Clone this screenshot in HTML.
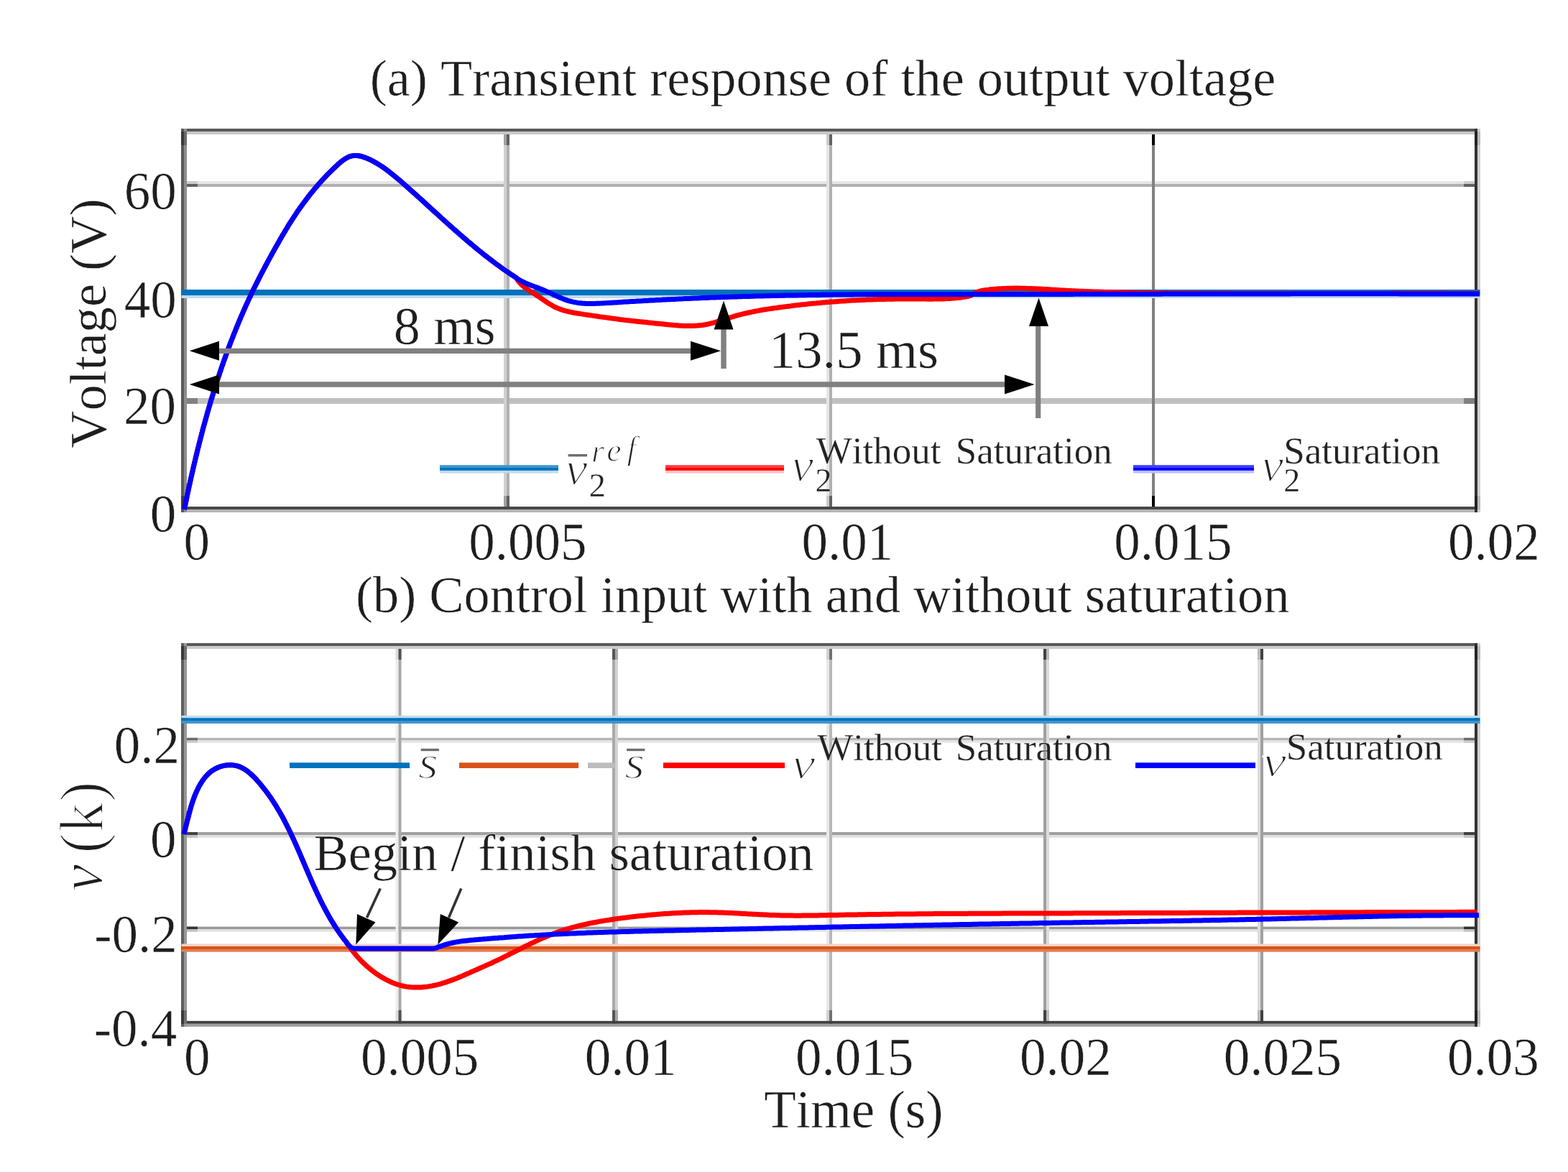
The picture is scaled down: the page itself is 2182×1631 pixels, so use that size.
<!DOCTYPE html>
<html><head><meta charset="utf-8"><title>Transient response and control input</title>
<style>html,body{margin:0;padding:0;background:#fff;}svg{display:block;}</style></head>
<body><svg width="2182" height="1631" viewBox="0 0 2182 1631"><rect width="2182" height="1631" fill="#fff"/><rect x="256" y="252" width="1800.00" height="4.00" fill="#e6e6e6" stroke="none"/><rect x="256" y="256" width="1800.00" height="4.00" fill="#b0b0b0" stroke="none"/><rect x="256" y="252" width="19.00" height="4.00" fill="#cdcdcd" stroke="none"/><rect x="2037" y="252" width="19.00" height="4.00" fill="#cdcdcd" stroke="none"/><rect x="256" y="256" width="19.00" height="4.00" fill="#616161" stroke="none"/><rect x="2037" y="256" width="19.00" height="4.00" fill="#616161" stroke="none"/><rect x="256" y="404" width="1800.00" height="4.00" fill="#e6e6e6" stroke="none"/><rect x="256" y="408" width="1800.00" height="4.00" fill="#b0b0b0" stroke="none"/><rect x="256" y="404" width="19.00" height="4.00" fill="#cdcdcd" stroke="none"/><rect x="2037" y="404" width="19.00" height="4.00" fill="#cdcdcd" stroke="none"/><rect x="256" y="408" width="19.00" height="4.00" fill="#616161" stroke="none"/><rect x="2037" y="408" width="19.00" height="4.00" fill="#616161" stroke="none"/><rect x="256" y="554" width="1800.00" height="8.00" fill="#c0c0c0" stroke="none"/><rect x="256" y="554" width="19.00" height="8.00" fill="#818181" stroke="none"/><rect x="2037" y="554" width="19.00" height="8.00" fill="#818181" stroke="none"/><rect x="701" y="183" width="4.00" height="526.00" fill="#d0d0d0" stroke="none"/><rect x="705" y="183" width="4.00" height="526.00" fill="#b0b0b0" stroke="none"/><rect x="701" y="183" width="4.00" height="19.00" fill="#a1a1a1" stroke="none"/><rect x="701" y="690" width="4.00" height="19.00" fill="#a1a1a1" stroke="none"/><rect x="705" y="183" width="4.00" height="19.00" fill="#616161" stroke="none"/><rect x="705" y="690" width="4.00" height="19.00" fill="#616161" stroke="none"/><rect x="1150" y="183" width="4.00" height="526.00" fill="#e5e5e5" stroke="none"/><rect x="1154" y="183" width="4.00" height="526.00" fill="#b0b0b0" stroke="none"/><rect x="1150" y="183" width="4.00" height="19.00" fill="#cbcbcb" stroke="none"/><rect x="1150" y="690" width="4.00" height="19.00" fill="#cbcbcb" stroke="none"/><rect x="1154" y="183" width="4.00" height="19.00" fill="#616161" stroke="none"/><rect x="1154" y="690" width="4.00" height="19.00" fill="#616161" stroke="none"/><rect x="1603" y="183" width="4.00" height="526.00" fill="#808080" stroke="none"/><rect x="1603" y="183" width="4.00" height="19.00" fill="#010101" stroke="none"/><rect x="1603" y="690" width="4.00" height="19.00" fill="#010101" stroke="none"/><rect x="252" y="179" width="1808.00" height="4.00" fill="#5a5a5a" stroke="none"/><rect x="252" y="183" width="1808.00" height="4.00" fill="#c8c8c8" stroke="none"/><rect x="252" y="705" width="1808.00" height="4.00" fill="#484848" stroke="none"/><rect x="252" y="709" width="1808.00" height="4.00" fill="#b5b5b5" stroke="none"/><rect x="252" y="179" width="4.00" height="534.00" fill="#5a5a5a" stroke="none"/><rect x="256" y="179" width="4.00" height="534.00" fill="#8e8e8e" stroke="none"/><rect x="2052" y="179" width="4.00" height="534.00" fill="#333333" stroke="none"/><rect x="2056" y="179" width="4.00" height="534.00" fill="#d0d0d0" stroke="none"/><rect x="252" y="183" width="4.00" height="19.00" fill="#3a3a3a" stroke="none"/><rect x="256" y="183" width="4.00" height="19.00" fill="#6a6a6a" stroke="none"/><rect x="2052" y="183" width="4.00" height="19.00" fill="#222222" stroke="none"/><rect x="2056" y="183" width="4.00" height="19.00" fill="#bbbbbb" stroke="none"/><rect x="252" y="690" width="4.00" height="19.00" fill="#3a3a3a" stroke="none"/><rect x="256" y="690" width="4.00" height="19.00" fill="#6a6a6a" stroke="none"/><rect x="2052" y="690" width="4.00" height="19.00" fill="#222222" stroke="none"/><rect x="2056" y="690" width="4.00" height="19.00" fill="#bbbbbb" stroke="none"/><rect x="252.5" y="403" width="1807.00" height="8.00" fill="#0072bd" stroke="none"/><rect x="252.5" y="411" width="1807.00" height="4.00" fill="#bfdbee" stroke="none"/><path d="M256.5,709.0 L257.1,706.0 L257.7,703.1 L258.3,700.2 L258.9,697.2 L259.5,694.3 L260.1,691.4 L260.7,688.5 L261.3,685.6 L262.0,682.6 L262.6,679.7 L263.2,676.8 L263.9,673.9 L264.5,671.0 L265.1,668.0 L265.8,665.1 L266.5,662.2 L267.1,659.3 L267.8,656.4 L268.5,653.5 L269.1,650.5 L269.8,647.6 L270.5,644.7 L271.2,641.8 L271.9,638.9 L272.6,636.0 L273.3,633.1 L274.0,630.2 L274.7,627.2 L275.4,624.3 L276.2,621.4 L276.9,618.5 L277.6,615.6 L278.4,612.7 L279.1,609.8 L279.9,606.9 L280.6,604.0 L281.4,601.1 L282.1,598.2 L282.9,595.3 L283.7,592.4 L284.5,589.5 L285.3,586.6 L286.1,583.7 L286.9,580.9 L287.7,578.0 L288.5,575.1 L289.3,572.2 L290.2,569.3 L291.0,566.4 L291.8,563.6 L292.7,560.7 L293.5,557.8 L294.4,554.9 L295.3,552.1 L296.2,549.2 L297.0,546.3 L297.9,543.5 L298.8,540.6 L299.7,537.8 L300.6,534.9 L301.5,532.0 L302.5,529.2 L303.4,526.3 L304.3,523.5 L305.3,520.7 L306.2,517.8 L307.2,515.0 L308.1,512.1 L309.1,509.3 L310.1,506.5 L311.1,503.6 L312.1,500.8 L313.1,498.0 L314.1,495.2 L315.1,492.4 L316.1,489.6 L317.2,486.7 L318.2,483.9 L319.3,481.1 L320.3,478.3 L321.4,475.5 L322.5,472.7 L323.6,470.0 L324.6,467.2 L325.7,464.4 L326.9,461.6 L328.0,458.8 L329.1,456.1 L330.2,453.3 L331.4,450.5 L332.5,447.8 L333.7,445.0 L334.8,442.2 L336.0,439.5 L337.2,436.8 L338.4,434.0 L339.6,431.3 L340.8,428.5 L342.0,425.8 L343.3,423.1 L344.5,420.4 L345.8,417.6 L347.0,414.9 L348.3,412.2 L349.6,409.5 L350.8,406.8 L352.1,404.1 L353.4,401.4 L354.8,398.7 L356.1,396.1 L357.4,393.4 L358.8,390.7 L360.1,388.0 L361.5,385.4 L362.8,382.7 L364.2,380.1 L365.6,377.4 L367.0,374.8 L368.4,372.1 L369.8,369.5 L371.2,366.8 L372.6,364.2 L374.0,361.6 L375.5,358.9 L376.9,356.3 L378.4,353.7 L379.8,351.0 L381.3,348.4 L382.7,345.8 L384.2,343.2 L385.7,340.6 L387.2,338.0 L388.6,335.4 L390.1,332.8 L391.6,330.2 L393.1,327.6 L394.7,325.0 L396.2,322.4 L397.7,319.8 L399.3,317.3 L400.8,314.7 L402.4,312.2 L404.0,309.6 L405.6,307.1 L407.2,304.6 L408.9,302.1 L410.5,299.6 L412.2,297.1 L413.8,294.6 L415.5,292.2 L417.2,289.7 L419.0,287.3 L420.7,284.9 L422.5,282.5 L424.3,280.1 L426.1,277.7 L427.9,275.3 L429.7,272.9 L431.5,270.6 L433.4,268.3 L435.3,266.0 L437.2,263.6 L439.1,261.4 L441.1,259.1 L443.0,256.8 L445.0,254.6 L447.0,252.3 L449.0,250.1 L451.1,247.9 L453.2,245.7 L455.2,243.5 L457.3,241.4 L459.5,239.2 L461.6,237.1 L463.8,235.0 L466.0,232.9 L468.2,230.8 L470.5,228.7 L472.7,226.7 L475.0,224.8 L477.4,223.0 L479.8,221.3 L482.2,219.9 L484.8,218.6 L487.4,217.6 L490.0,216.9 L492.8,216.5 L495.6,216.4 L498.6,216.7 L501.5,217.2 L504.5,218.1 L507.5,219.1 L510.5,220.2 L513.5,221.5 L516.4,222.9 L519.2,224.4 L521.9,225.9 L524.6,227.4 L527.2,229.0 L529.7,230.6 L532.2,232.2 L534.6,233.9 L537.0,235.6 L539.3,237.4 L541.6,239.1 L543.9,240.9 L546.2,242.7 L548.5,244.6 L550.7,246.5 L553.0,248.4 L555.3,250.3 L557.5,252.2 L559.8,254.2 L562.0,256.1 L564.3,258.1 L566.5,260.1 L568.8,262.1 L571.0,264.1 L573.3,266.1 L575.5,268.1 L577.8,270.1 L580.0,272.1 L582.2,274.2 L584.5,276.2 L586.7,278.2 L588.9,280.2 L591.1,282.2 L593.4,284.3 L595.6,286.3 L597.8,288.3 L600.0,290.3 L602.2,292.4 L604.4,294.4 L606.7,296.4 L608.9,298.4 L611.1,300.4 L613.3,302.5 L615.5,304.5 L617.8,306.5 L620.0,308.5 L622.2,310.5 L624.4,312.5 L626.7,314.5 L628.9,316.5 L631.1,318.5 L633.4,320.4 L635.6,322.4 L637.9,324.4 L640.1,326.4 L642.4,328.3 L644.6,330.3 L646.9,332.2 L649.1,334.2 L651.4,336.1 L653.7,338.0 L656.0,340.0 L658.3,341.9 L660.6,343.8 L662.9,345.7 L665.2,347.6 L667.5,349.5 L669.8,351.3 L672.2,353.2 L674.5,355.1 L676.9,356.9 L679.2,358.7 L681.6,360.6 L684.0,362.4 L686.4,364.2 L688.7,366.0 L691.2,367.8 L693.6,369.5 L696.0,371.3 L698.4,373.0 L700.9,374.8 L703.3,376.5 L705.8,378.2 L708.3,379.9 L710.8,381.6 L713.3,383.2 L715.8,384.9 L718.3,386.5 L719.9,389.2 L721.7,391.7 L723.7,394.0 L725.8,396.2 L727.9,398.1 L730.2,400.0 L732.6,401.7 L735.0,403.4 L737.5,405.0 L740.0,406.6 L742.5,408.2 L745.1,409.8 L747.6,411.5 L750.1,413.2 L752.6,414.9 L755.1,416.6 L757.6,418.3 L760.1,420.0 L762.6,421.7 L765.2,423.3 L767.8,424.8 L770.4,426.3 L773.0,427.6 L775.7,428.8 L778.5,429.9 L781.3,430.9 L784.1,431.8 L786.9,432.6 L789.8,433.3 L792.7,434.0 L795.6,434.6 L798.6,435.2 L801.5,435.7 L804.5,436.2 L807.5,436.6 L810.4,437.1 L813.4,437.6 L816.4,438.0 L819.4,438.5 L822.3,438.9 L825.3,439.4 L828.3,439.8 L831.3,440.2 L834.2,440.7 L837.2,441.1 L840.2,441.5 L843.1,441.9 L846.1,442.3 L849.1,442.7 L852.0,443.1 L855.0,443.5 L858.0,443.9 L860.9,444.3 L863.9,444.7 L866.9,445.0 L869.8,445.4 L872.8,445.7 L875.7,446.1 L878.7,446.4 L881.7,446.7 L884.6,447.1 L887.6,447.4 L890.6,447.7 L893.5,448.0 L896.5,448.3 L899.5,448.6 L902.5,448.9 L905.5,449.2 L908.4,449.6 L911.4,449.9 L914.4,450.2 L917.4,450.5 L920.4,450.8 L923.4,451.1 L926.4,451.4 L929.4,451.7 L932.4,452.0 L935.4,452.3 L938.4,452.6 L941.4,452.8 L944.4,453.1 L947.4,453.2 L950.4,453.4 L953.4,453.5 L956.4,453.6 L959.4,453.6 L962.4,453.6 L965.3,453.5 L968.3,453.3 L971.3,453.1 L974.2,452.8 L977.2,452.5 L980.1,452.0 L983.0,451.5 L985.9,450.9 L988.8,450.2 L991.7,449.5 L994.6,448.7 L997.4,447.9 L1000.3,447.0 L1003.2,446.1 L1006.0,445.2 L1008.9,444.2 L1011.7,443.3 L1014.6,442.4 L1017.5,441.5 L1020.3,440.6 L1023.2,439.7 L1026.1,438.9 L1029.0,438.1 L1031.9,437.4 L1034.8,436.7 L1037.7,436.0 L1040.7,435.3 L1043.6,434.7 L1046.5,434.1 L1049.4,433.5 L1052.4,432.9 L1055.3,432.4 L1058.3,431.8 L1061.2,431.3 L1064.2,430.8 L1067.1,430.4 L1070.1,429.9 L1073.0,429.5 L1076.0,429.0 L1079.0,428.6 L1081.9,428.2 L1084.9,427.8 L1087.9,427.4 L1090.8,427.0 L1093.8,426.6 L1096.8,426.2 L1099.8,425.9 L1102.7,425.5 L1105.7,425.1 L1108.7,424.8 L1111.7,424.4 L1114.7,424.1 L1117.6,423.8 L1120.6,423.5 L1123.6,423.1 L1126.6,422.8 L1129.6,422.5 L1132.5,422.2 L1135.5,422.0 L1138.5,421.7 L1141.5,421.4 L1144.5,421.1 L1147.5,420.9 L1150.4,420.6 L1153.4,420.4 L1156.4,420.1 L1159.4,419.9 L1162.4,419.7 L1165.4,419.5 L1168.3,419.3 L1171.3,419.1 L1174.3,418.9 L1177.3,418.7 L1180.3,418.5 L1183.3,418.3 L1186.2,418.1 L1189.2,418.0 L1192.2,417.8 L1195.2,417.7 L1198.2,417.5 L1201.2,417.4 L1204.2,417.3 L1207.1,417.1 L1210.1,417.0 L1213.1,416.9 L1216.1,416.8 L1219.1,416.7 L1222.1,416.6 L1225.1,416.5 L1228.1,416.4 L1231.1,416.4 L1234.1,416.3 L1237.1,416.3 L1240.1,416.2 L1243.1,416.2 L1246.1,416.1 L1249.1,416.1 L1252.1,416.1 L1255.1,416.0 L1258.1,416.0 L1261.1,416.0 L1264.1,416.0 L1267.1,416.0 L1270.1,416.0 L1273.1,416.0 L1276.1,416.1 L1279.1,416.1 L1282.1,416.1 L1285.1,416.1 L1288.2,416.1 L1291.2,416.2 L1294.2,416.2 L1297.2,416.2 L1300.2,416.1 L1303.2,416.1 L1306.2,416.0 L1309.2,416.0 L1312.2,415.9 L1315.2,415.8 L1318.1,415.6 L1321.1,415.5 L1324.1,415.3 L1327.1,415.1 L1330.0,414.8 L1333.0,414.5 L1335.9,414.2 L1338.9,413.8 L1341.8,413.4 L1344.7,412.9 L1347.6,412.3 L1350.4,411.5 L1353.1,410.2 L1355.7,408.8 L1358.3,407.2 L1361.0,406.0 L1363.8,405.1 L1366.6,404.4 L1369.6,403.9 L1372.5,403.5 L1375.5,403.2 L1378.4,402.8 L1381.4,402.5 L1384.4,402.3 L1387.3,402.0 L1390.3,401.8 L1393.3,401.7 L1396.2,401.5 L1399.2,401.4 L1402.2,401.3 L1405.2,401.2 L1408.1,401.2 L1411.1,401.1 L1414.1,401.1 L1417.1,401.1 L1420.1,401.2 L1423.1,401.2 L1426.1,401.3 L1429.1,401.4 L1432.1,401.5 L1435.0,401.6 L1438.0,401.7 L1441.0,401.8 L1444.0,402.0 L1447.0,402.1 L1450.0,402.3 L1453.0,402.5 L1456.0,402.6 L1459.0,402.8 L1462.0,403.0 L1465.0,403.2 L1468.0,403.3 L1471.0,403.5 L1474.0,403.7 L1477.0,403.9 L1480.0,404.0 L1483.0,404.2 L1486.0,404.4 L1489.0,404.5 L1492.0,404.7 L1495.0,404.8 L1498.0,404.9 L1501.0,405.1 L1504.0,405.2 L1507.0,405.3 L1510.0,405.5 L1513.0,405.6 L1516.0,405.7 L1519.0,405.8 L1522.0,405.9 L1525.0,406.0 L1528.0,406.1 L1531.0,406.2 L1534.0,406.3 L1537.0,406.4 L1540.0,406.5 L1543.0,406.5 L1546.0,406.6 L1549.0,406.7 L1551.9,406.8 L1554.9,406.8 L1557.9,406.9 L1560.9,407.0 L1563.9,407.0 L1566.9,407.1 L1569.9,407.1 L1572.9,407.2 L1575.9,407.2 L1578.9,407.3 L1581.9,407.3 L1584.9,407.4 L1587.8,407.4 L1590.8,407.4 L1593.8,407.5 L1596.8,407.5 L1599.8,407.6 L1602.8,407.6 L1605.8,407.6 L1608.8,407.7 L1611.8,407.7 L1614.8,407.7 L1617.8,407.8 L1620.8,407.8 L1623.7,407.8 L1626.7,407.8 L1629.7,407.9 L1632.7,407.9 L1635.7,407.9 L1638.7,407.9 L1641.7,408.0 L1644.7,408.0 L1647.7,408.0 L1650.7,408.0 L1653.7,408.1 L1656.7,408.1 L1659.7,408.1 L1662.7,408.1 L1665.6,408.1 L1668.6,408.1 L1671.6,408.2 L1674.6,408.2 L1677.6,408.2 L1680.6,408.2 L1683.6,408.2 L1686.6,408.2 L1689.6,408.3 L1692.6,408.3 L1695.6,408.3 L1698.6,408.3 L1701.6,408.3 L1704.6,408.3 L1707.6,408.3 L1710.6,408.3 L1713.6,408.4 L1716.6,408.4 L1719.5,408.4 L1722.5,408.4 L1725.5,408.4 L1728.5,408.4 L1731.5,408.4 L1734.5,408.4 L1737.5,408.4 L1740.5,408.4 L1743.5,408.4 L1746.5,408.4 L1749.5,408.4 L1752.5,408.4 L1755.5,408.5 L1758.5,408.5 L1761.5,408.5 L1764.5,408.5 L1767.5,408.5 L1770.5,408.5 L1773.5,408.5 L1776.5,408.5 L1779.5,408.5 L1782.4,408.5 L1785.4,408.5 L1788.4,408.5 L1791.4,408.5 L1794.4,408.5 L1797.4,408.5 L1800.4,408.5 L1803.4,408.5 L1806.4,408.5 L1809.4,408.5 L1812.4,408.5 L1815.4,408.5 L1818.4,408.5 L1821.4,408.5 L1824.4,408.5 L1827.4,408.5 L1830.4,408.5 L1833.4,408.5 L1836.4,408.5 L1839.4,408.5 L1842.4,408.5 L1845.4,408.5 L1848.4,408.4 L1851.4,408.4 L1854.4,408.4 L1857.3,408.4 L1860.3,408.4 L1863.3,408.4 L1866.3,408.4 L1869.3,408.4 L1872.3,408.4 L1875.3,408.4 L1878.3,408.4 L1881.3,408.4 L1884.3,408.4 L1887.3,408.4 L1890.3,408.4 L1893.3,408.4 L1896.3,408.4 L1899.3,408.4 L1902.3,408.4 L1905.3,408.4 L1908.3,408.4 L1911.3,408.4 L1914.3,408.4 L1917.3,408.4 L1920.3,408.4 L1923.3,408.4 L1926.3,408.4 L1929.2,408.4 L1932.2,408.4 L1935.2,408.4 L1938.2,408.3 L1941.2,408.3 L1944.2,408.3 L1947.2,408.3 L1950.2,408.3 L1953.2,408.3 L1956.2,408.3 L1959.2,408.3 L1962.2,408.3 L1965.2,408.3 L1968.2,408.3 L1971.2,408.3 L1974.2,408.3 L1977.2,408.3 L1980.2,408.3 L1983.2,408.3 L1986.1,408.3 L1989.1,408.3 L1992.1,408.3 L1995.1,408.3 L1998.1,408.3 L2001.1,408.3 L2004.1,408.3 L2007.1,408.3 L2010.1,408.3 L2013.1,408.3 L2016.1,408.4 L2019.1,408.4 L2022.1,408.4 L2025.1,408.4 L2028.1,408.4 L2031.1,408.4 L2034.0,408.4 L2037.0,408.4 L2040.0,408.4 L2043.0,408.4 L2046.0,408.4 L2049.0,408.4 L2052.0,408.4 L2055.0,408.4 L2058.0,408.4" fill="none" stroke="#ff0000" stroke-width="7" stroke-linejoin="round"/><path d="M256.5,709.0 L257.1,706.0 L257.7,703.1 L258.3,700.2 L258.9,697.2 L259.5,694.3 L260.1,691.4 L260.7,688.5 L261.3,685.6 L262.0,682.6 L262.6,679.7 L263.2,676.8 L263.9,673.9 L264.5,671.0 L265.1,668.0 L265.8,665.1 L266.5,662.2 L267.1,659.3 L267.8,656.4 L268.5,653.5 L269.1,650.5 L269.8,647.6 L270.5,644.7 L271.2,641.8 L271.9,638.9 L272.6,636.0 L273.3,633.1 L274.0,630.2 L274.7,627.2 L275.4,624.3 L276.2,621.4 L276.9,618.5 L277.6,615.6 L278.4,612.7 L279.1,609.8 L279.9,606.9 L280.6,604.0 L281.4,601.1 L282.1,598.2 L282.9,595.3 L283.7,592.4 L284.5,589.5 L285.3,586.6 L286.1,583.7 L286.9,580.9 L287.7,578.0 L288.5,575.1 L289.3,572.2 L290.2,569.3 L291.0,566.4 L291.8,563.6 L292.7,560.7 L293.5,557.8 L294.4,554.9 L295.3,552.1 L296.2,549.2 L297.0,546.3 L297.9,543.5 L298.8,540.6 L299.7,537.8 L300.6,534.9 L301.5,532.0 L302.5,529.2 L303.4,526.3 L304.3,523.5 L305.3,520.7 L306.2,517.8 L307.2,515.0 L308.1,512.1 L309.1,509.3 L310.1,506.5 L311.1,503.6 L312.1,500.8 L313.1,498.0 L314.1,495.2 L315.1,492.4 L316.1,489.6 L317.2,486.7 L318.2,483.9 L319.3,481.1 L320.3,478.3 L321.4,475.5 L322.5,472.7 L323.6,470.0 L324.6,467.2 L325.7,464.4 L326.9,461.6 L328.0,458.8 L329.1,456.1 L330.2,453.3 L331.4,450.5 L332.5,447.8 L333.7,445.0 L334.8,442.2 L336.0,439.5 L337.2,436.8 L338.4,434.0 L339.6,431.3 L340.8,428.5 L342.0,425.8 L343.3,423.1 L344.5,420.4 L345.8,417.6 L347.0,414.9 L348.3,412.2 L349.6,409.5 L350.8,406.8 L352.1,404.1 L353.4,401.4 L354.8,398.7 L356.1,396.1 L357.4,393.4 L358.8,390.7 L360.1,388.0 L361.5,385.4 L362.8,382.7 L364.2,380.1 L365.6,377.4 L367.0,374.8 L368.4,372.1 L369.8,369.5 L371.2,366.8 L372.6,364.2 L374.0,361.6 L375.5,358.9 L376.9,356.3 L378.4,353.7 L379.8,351.0 L381.3,348.4 L382.7,345.8 L384.2,343.2 L385.7,340.6 L387.2,338.0 L388.6,335.4 L390.1,332.8 L391.6,330.2 L393.1,327.6 L394.7,325.0 L396.2,322.4 L397.7,319.8 L399.3,317.3 L400.8,314.7 L402.4,312.2 L404.0,309.6 L405.6,307.1 L407.2,304.6 L408.9,302.1 L410.5,299.6 L412.2,297.1 L413.8,294.6 L415.5,292.2 L417.2,289.7 L419.0,287.3 L420.7,284.9 L422.5,282.5 L424.3,280.1 L426.1,277.7 L427.9,275.3 L429.7,272.9 L431.5,270.6 L433.4,268.3 L435.3,266.0 L437.2,263.6 L439.1,261.4 L441.1,259.1 L443.0,256.8 L445.0,254.6 L447.0,252.3 L449.0,250.1 L451.1,247.9 L453.2,245.7 L455.2,243.5 L457.3,241.4 L459.5,239.2 L461.6,237.1 L463.8,235.0 L466.0,232.9 L468.2,230.8 L470.5,228.7 L472.7,226.7 L475.0,224.8 L477.4,223.0 L479.8,221.3 L482.2,219.9 L484.8,218.6 L487.4,217.6 L490.0,216.9 L492.8,216.5 L495.6,216.4 L498.6,216.7 L501.5,217.2 L504.5,218.1 L507.5,219.1 L510.5,220.2 L513.5,221.5 L516.4,222.9 L519.2,224.4 L521.9,225.9 L524.6,227.4 L527.2,229.0 L529.7,230.6 L532.2,232.2 L534.6,233.9 L537.0,235.6 L539.3,237.4 L541.6,239.1 L543.9,240.9 L546.2,242.7 L548.5,244.6 L550.7,246.5 L553.0,248.4 L555.3,250.3 L557.5,252.2 L559.8,254.2 L562.0,256.1 L564.3,258.1 L566.5,260.1 L568.8,262.1 L571.0,264.1 L573.3,266.1 L575.5,268.1 L577.8,270.1 L580.0,272.1 L582.2,274.2 L584.5,276.2 L586.7,278.2 L588.9,280.2 L591.1,282.2 L593.4,284.3 L595.6,286.3 L597.8,288.3 L600.0,290.3 L602.2,292.4 L604.4,294.4 L606.7,296.4 L608.9,298.4 L611.1,300.4 L613.3,302.5 L615.5,304.5 L617.8,306.5 L620.0,308.5 L622.2,310.5 L624.4,312.5 L626.7,314.5 L628.9,316.5 L631.1,318.5 L633.4,320.4 L635.6,322.4 L637.9,324.4 L640.1,326.4 L642.4,328.3 L644.6,330.3 L646.9,332.2 L649.1,334.2 L651.4,336.1 L653.7,338.0 L656.0,340.0 L658.3,341.9 L660.6,343.8 L662.9,345.7 L665.2,347.6 L667.5,349.5 L669.8,351.3 L672.2,353.2 L674.5,355.1 L676.9,356.9 L679.2,358.7 L681.6,360.6 L684.0,362.4 L686.4,364.2 L688.7,366.0 L691.2,367.8 L693.6,369.5 L696.0,371.3 L698.4,373.0 L700.9,374.8 L703.3,376.5 L705.8,378.2 L708.3,379.9 L710.8,381.6 L713.3,383.2 L715.8,384.9 L718.3,386.5 L720.8,388.4 L723.4,390.0 L726.0,391.4 L728.6,392.7 L731.3,394.0 L734.0,395.1 L736.8,396.2 L739.5,397.3 L742.3,398.3 L745.1,399.4 L747.9,400.4 L750.7,401.4 L753.5,402.5 L756.3,403.7 L759.1,404.9 L761.8,406.1 L764.6,407.4 L767.4,408.7 L770.1,410.0 L772.9,411.3 L775.7,412.5 L778.5,413.8 L781.3,415.0 L784.1,416.1 L786.9,417.1 L789.7,418.1 L792.5,419.0 L795.4,419.7 L798.3,420.4 L801.2,420.9 L804.1,421.4 L807.0,421.7 L809.9,422.0 L812.8,422.2 L815.8,422.4 L818.7,422.5 L821.7,422.5 L824.7,422.5 L827.6,422.4 L830.6,422.3 L833.6,422.2 L836.6,422.1 L839.6,421.9 L842.6,421.7 L845.6,421.6 L848.6,421.4 L851.6,421.2 L854.5,421.0 L857.5,420.9 L860.5,420.7 L863.5,420.5 L866.5,420.3 L869.5,420.1 L872.5,420.0 L875.5,419.8 L878.5,419.6 L881.5,419.4 L884.5,419.3 L887.5,419.1 L890.5,418.9 L893.5,418.8 L896.5,418.6 L899.4,418.4 L902.4,418.3 L905.4,418.1 L908.4,417.9 L911.4,417.8 L914.4,417.6 L917.4,417.4 L920.4,417.3 L923.4,417.1 L926.4,417.0 L929.4,416.8 L932.4,416.7 L935.4,416.5 L938.4,416.4 L941.4,416.2 L944.3,416.1 L947.3,415.9 L950.3,415.8 L953.3,415.6 L956.3,415.5 L959.3,415.4 L962.3,415.2 L965.3,415.1 L968.3,415.0 L971.3,414.9 L974.3,414.7 L977.3,414.6 L980.3,414.5 L983.3,414.4 L986.3,414.2 L989.3,414.1 L992.3,414.0 L995.2,413.9 L998.2,413.8 L1001.2,413.7 L1004.2,413.6 L1007.2,413.5 L1010.2,413.4 L1013.2,413.3 L1016.2,413.2 L1019.2,413.1 L1022.2,413.0 L1025.2,412.9 L1028.2,412.8 L1031.2,412.7 L1034.2,412.6 L1037.2,412.5 L1040.2,412.4 L1043.2,412.4 L1046.2,412.3 L1049.2,412.2 L1052.1,412.1 L1055.1,412.0 L1058.1,412.0 L1061.1,411.9 L1064.1,411.8 L1067.1,411.7 L1070.1,411.7 L1073.1,411.6 L1076.1,411.5 L1079.1,411.5 L1082.1,411.4 L1085.1,411.3 L1088.1,411.3 L1091.1,411.2 L1094.1,411.1 L1097.1,411.1 L1100.1,411.0 L1103.1,411.0 L1106.1,410.9 L1109.1,410.9 L1112.1,410.8 L1115.1,410.8 L1118.1,410.7 L1121.0,410.7 L1124.0,410.6 L1127.0,410.6 L1130.0,410.5 L1133.0,410.5 L1136.0,410.4 L1139.0,410.4 L1142.0,410.4 L1145.0,410.3 L1148.0,410.3 L1151.0,410.2 L1154.0,410.2 L1157.0,410.2 L1160.0,410.1 L1163.0,410.1 L1166.0,410.1 L1169.0,410.0 L1172.0,410.0 L1175.0,410.0 L1178.0,409.9 L1181.0,409.9 L1184.0,409.9 L1187.0,409.9 L1190.0,409.8 L1193.0,409.8 L1196.0,409.8 L1199.0,409.8 L1201.9,409.7 L1204.9,409.7 L1207.9,409.7 L1210.9,409.7 L1213.9,409.7 L1216.9,409.7 L1219.9,409.6 L1222.9,409.6 L1225.9,409.6 L1228.9,409.6 L1231.9,409.6 L1234.9,409.6 L1237.9,409.5 L1240.9,409.5 L1243.9,409.5 L1246.9,409.5 L1249.9,409.5 L1252.9,409.5 L1255.9,409.5 L1258.9,409.5 L1261.9,409.5 L1264.9,409.5 L1267.9,409.4 L1270.9,409.4 L1273.9,409.4 L1276.9,409.4 L1279.9,409.4 L1282.9,409.4 L1285.9,409.4 L1288.9,409.4 L1291.9,409.4 L1294.9,409.4 L1297.8,409.4 L1300.8,409.4 L1303.8,409.4 L1306.8,409.4 L1309.8,409.4 L1312.8,409.4 L1315.8,409.4 L1318.8,409.4 L1321.8,409.4 L1324.8,409.4 L1327.8,409.4 L1330.8,409.4 L1333.8,409.4 L1336.8,409.4 L1339.8,409.4 L1342.8,409.4 L1345.8,409.4 L1348.8,409.4 L1351.8,409.4 L1354.8,409.4 L1357.8,409.4 L1360.8,409.4 L1363.8,409.4 L1366.8,409.4 L1369.8,409.4 L1372.8,409.4 L1375.8,409.4 L1378.8,409.4 L1381.8,409.4 L1384.8,409.4 L1387.8,409.4 L1390.8,409.4 L1393.8,409.4 L1396.7,409.4 L1399.7,409.4 L1402.7,409.4 L1405.7,409.4 L1408.7,409.4 L1411.7,409.4 L1414.7,409.4 L1417.7,409.4 L1420.7,409.4 L1423.7,409.4 L1426.7,409.4 L1429.7,409.4 L1432.7,409.4 L1435.7,409.4 L1438.7,409.4 L1441.7,409.4 L1444.7,409.4 L1447.7,409.4 L1450.7,409.4 L1453.7,409.4 L1456.7,409.4 L1459.7,409.4 L1462.7,409.4 L1465.7,409.4 L1468.7,409.4 L1471.7,409.4 L1474.7,409.4 L1477.7,409.4 L1480.7,409.4 L1483.7,409.4 L1486.7,409.4 L1489.6,409.4 L1492.6,409.4 L1495.6,409.3 L1498.6,409.3 L1501.6,409.3 L1504.6,409.3 L1507.6,409.3 L1510.6,409.3 L1513.6,409.3 L1516.6,409.3 L1519.6,409.3 L1522.6,409.3 L1525.6,409.3 L1528.6,409.3 L1531.6,409.3 L1534.6,409.3 L1537.6,409.3 L1540.6,409.3 L1543.6,409.3 L1546.6,409.3 L1549.6,409.3 L1552.6,409.3 L1555.6,409.3 L1558.6,409.3 L1561.6,409.3 L1564.6,409.2 L1567.6,409.2 L1570.6,409.2 L1573.6,409.2 L1576.6,409.2 L1579.5,409.2 L1582.5,409.2 L1585.5,409.2 L1588.5,409.2 L1591.5,409.2 L1594.5,409.2 L1597.5,409.2 L1600.5,409.2 L1603.5,409.2 L1606.5,409.2 L1609.5,409.2 L1612.5,409.2 L1615.5,409.2 L1618.5,409.1 L1621.5,409.1 L1624.5,409.1 L1627.5,409.1 L1630.5,409.1 L1633.5,409.1 L1636.5,409.1 L1639.5,409.1 L1642.5,409.1 L1645.5,409.1 L1648.5,409.1 L1651.5,409.1 L1654.5,409.1 L1657.5,409.1 L1660.5,409.1 L1663.4,409.1 L1666.4,409.1 L1669.4,409.1 L1672.4,409.0 L1675.4,409.0 L1678.4,409.0 L1681.4,409.0 L1684.4,409.0 L1687.4,409.0 L1690.4,409.0 L1693.4,409.0 L1696.4,409.0 L1699.4,409.0 L1702.4,409.0 L1705.4,409.0 L1708.4,409.0 L1711.4,409.0 L1714.4,409.0 L1717.4,409.0 L1720.4,409.0 L1723.4,409.0 L1726.4,408.9 L1729.4,408.9 L1732.4,408.9 L1735.4,408.9 L1738.4,408.9 L1741.4,408.9 L1744.4,408.9 L1747.3,408.9 L1750.3,408.9 L1753.3,408.9 L1756.3,408.9 L1759.3,408.9 L1762.3,408.9 L1765.3,408.9 L1768.3,408.9 L1771.3,408.9 L1774.3,408.9 L1777.3,408.9 L1780.3,408.9 L1783.3,408.9 L1786.3,408.9 L1789.3,408.9 L1792.3,408.9 L1795.3,408.9 L1798.3,408.8 L1801.3,408.8 L1804.3,408.8 L1807.3,408.8 L1810.3,408.8 L1813.3,408.8 L1816.3,408.8 L1819.3,408.8 L1822.3,408.8 L1825.3,408.8 L1828.3,408.8 L1831.3,408.8 L1834.2,408.8 L1837.2,408.8 L1840.2,408.8 L1843.2,408.8 L1846.2,408.8 L1849.2,408.8 L1852.2,408.8 L1855.2,408.8 L1858.2,408.8 L1861.2,408.8 L1864.2,408.8 L1867.2,408.8 L1870.2,408.8 L1873.2,408.8 L1876.2,408.8 L1879.2,408.8 L1882.2,408.8 L1885.2,408.8 L1888.2,408.8 L1891.2,408.8 L1894.2,408.8 L1897.2,408.8 L1900.2,408.8 L1903.2,408.8 L1906.2,408.8 L1909.2,408.8 L1912.2,408.8 L1915.2,408.8 L1918.2,408.8 L1921.1,408.8 L1924.1,408.8 L1927.1,408.8 L1930.1,408.8 L1933.1,408.8 L1936.1,408.8 L1939.1,408.8 L1942.1,408.8 L1945.1,408.8 L1948.1,408.9 L1951.1,408.9 L1954.1,408.9 L1957.1,408.9 L1960.1,408.9 L1963.1,408.9 L1966.1,408.9 L1969.1,408.9 L1972.1,408.9 L1975.1,408.9 L1978.1,408.9 L1981.1,408.9 L1984.1,408.9 L1987.1,408.9 L1990.1,408.9 L1993.1,408.9 L1996.1,408.9 L1999.1,408.9 L2002.1,409.0 L2005.1,409.0 L2008.1,409.0 L2011.1,409.0 L2014.0,409.0 L2017.0,409.0 L2020.0,409.0 L2023.0,409.0 L2026.0,409.0 L2029.0,409.0 L2032.0,409.0 L2035.0,409.1 L2038.0,409.1 L2041.0,409.1 L2044.0,409.1 L2047.0,409.1 L2050.0,409.1 L2053.0,409.1 L2056.0,409.1 L2059.0,409.0" fill="none" stroke="#0000ff" stroke-width="7" stroke-linejoin="round"/><line x1="300" y1="488.3" x2="965" y2="488.3" stroke="#808080" stroke-width="7.2"/><polygon points="263.8,488.3 305,474.8 305,501.8" fill="#000"/><polygon points="1003,488.3 961,474.8 961,501.8" fill="#000"/><line x1="1007" y1="513" x2="1007" y2="455" stroke="#808080" stroke-width="7.5"/><polygon points="1007,418.5 993.5,458.5 1020.5,458.5" fill="#000"/><line x1="300" y1="535" x2="1400" y2="535" stroke="#808080" stroke-width="7.7"/><polygon points="263.8,535 305,521.5 305,548.5" fill="#000"/><polygon points="1439.5,535 1398,521.5 1398,548.5" fill="#000"/><line x1="1444.7" y1="582" x2="1444.7" y2="450" stroke="#808080" stroke-width="7.2"/><polygon points="1445.5,414.5 1432.0,454 1459.0,454" fill="#000"/><rect x="612" y="647.2" width="165.00" height="3.80" fill="#3f95cd" stroke="none"/><rect x="612" y="651" width="165.00" height="3.90" fill="#0072bd" stroke="none"/><rect x="612" y="654.9" width="165.00" height="3.60" fill="#bfdbee" stroke="none"/><rect x="926" y="647.2" width="165.00" height="3.80" fill="#ff3f3f" stroke="none"/><rect x="926" y="651" width="165.00" height="3.90" fill="#ff0000" stroke="none"/><rect x="926" y="654.9" width="165.00" height="3.60" fill="#ffbfbf" stroke="none"/><rect x="1577" y="647.2" width="168.00" height="3.80" fill="#3f3fff" stroke="none"/><rect x="1577" y="651" width="168.00" height="3.90" fill="#0000ff" stroke="none"/><rect x="1577" y="654.9" width="168.00" height="3.60" fill="#bfbfff" stroke="none"/><rect x="256" y="1026.8" width="1800.00" height="3.70" fill="#b5b5b5" stroke="none"/><rect x="256" y="1030.5" width="1800.00" height="3.30" fill="#e5e5e5" stroke="none"/><rect x="256" y="1026.8" width="19.00" height="3.70" fill="#6b6b6b" stroke="none"/><rect x="2037" y="1026.8" width="19.00" height="3.70" fill="#6b6b6b" stroke="none"/><rect x="256" y="1030.5" width="19.00" height="3.30" fill="#cbcbcb" stroke="none"/><rect x="2037" y="1030.5" width="19.00" height="3.30" fill="#cbcbcb" stroke="none"/><rect x="256" y="1158" width="1800.00" height="4.00" fill="#a0a0a0" stroke="none"/><rect x="256" y="1162" width="1800.00" height="3.80" fill="#e0e0e0" stroke="none"/><rect x="256" y="1158" width="19.00" height="4.00" fill="#414141" stroke="none"/><rect x="2037" y="1158" width="19.00" height="4.00" fill="#414141" stroke="none"/><rect x="256" y="1162" width="19.00" height="3.80" fill="#c1c1c1" stroke="none"/><rect x="2037" y="1162" width="19.00" height="3.80" fill="#c1c1c1" stroke="none"/><rect x="256" y="1289.6" width="1800.00" height="3.70" fill="#999999" stroke="none"/><rect x="256" y="1293.3" width="1800.00" height="3.30" fill="#e0e0e0" stroke="none"/><rect x="256" y="1289.6" width="19.00" height="3.70" fill="#333333" stroke="none"/><rect x="2037" y="1289.6" width="19.00" height="3.70" fill="#333333" stroke="none"/><rect x="256" y="1293.3" width="19.00" height="3.30" fill="#c1c1c1" stroke="none"/><rect x="2037" y="1293.3" width="19.00" height="3.30" fill="#c1c1c1" stroke="none"/><rect x="550.5" y="899" width="4.00" height="525.80" fill="#eeeeee" stroke="none"/><rect x="554.5" y="899" width="4.00" height="525.80" fill="#a8a8a8" stroke="none"/><rect x="550.5" y="899" width="4.00" height="19.00" fill="#dddddd" stroke="none"/><rect x="550.5" y="1405.8" width="4.00" height="19.00" fill="#dddddd" stroke="none"/><rect x="554.5" y="899" width="4.00" height="19.00" fill="#515151" stroke="none"/><rect x="554.5" y="1405.8" width="4.00" height="19.00" fill="#515151" stroke="none"/><rect x="852" y="899" width="4.00" height="525.80" fill="#aaaaaa" stroke="none"/><rect x="856" y="899" width="4.00" height="525.80" fill="#d3d3d3" stroke="none"/><rect x="852" y="899" width="4.00" height="19.00" fill="#555555" stroke="none"/><rect x="852" y="1405.8" width="4.00" height="19.00" fill="#555555" stroke="none"/><rect x="856" y="899" width="4.00" height="19.00" fill="#a7a7a7" stroke="none"/><rect x="856" y="1405.8" width="4.00" height="19.00" fill="#a7a7a7" stroke="none"/><rect x="1150" y="899" width="4.00" height="525.80" fill="#e8e8e8" stroke="none"/><rect x="1154" y="899" width="4.00" height="525.80" fill="#b8b8b8" stroke="none"/><rect x="1150" y="899" width="4.00" height="19.00" fill="#d1d1d1" stroke="none"/><rect x="1150" y="1405.8" width="4.00" height="19.00" fill="#d1d1d1" stroke="none"/><rect x="1154" y="899" width="4.00" height="19.00" fill="#717171" stroke="none"/><rect x="1154" y="1405.8" width="4.00" height="19.00" fill="#717171" stroke="none"/><rect x="1452" y="899" width="4.00" height="525.80" fill="#a0a0a0" stroke="none"/><rect x="1456" y="899" width="4.00" height="525.80" fill="#dcdcdc" stroke="none"/><rect x="1452" y="899" width="4.00" height="19.00" fill="#414141" stroke="none"/><rect x="1452" y="1405.8" width="4.00" height="19.00" fill="#414141" stroke="none"/><rect x="1456" y="899" width="4.00" height="19.00" fill="#b9b9b9" stroke="none"/><rect x="1456" y="1405.8" width="4.00" height="19.00" fill="#b9b9b9" stroke="none"/><rect x="1750" y="899" width="4.00" height="525.80" fill="#dcdcdc" stroke="none"/><rect x="1754" y="899" width="4.00" height="525.80" fill="#a0a0a0" stroke="none"/><rect x="1750" y="899" width="4.00" height="19.00" fill="#b9b9b9" stroke="none"/><rect x="1750" y="1405.8" width="4.00" height="19.00" fill="#b9b9b9" stroke="none"/><rect x="1754" y="899" width="4.00" height="19.00" fill="#414141" stroke="none"/><rect x="1754" y="1405.8" width="4.00" height="19.00" fill="#414141" stroke="none"/><rect x="252" y="895" width="1808.00" height="4.00" fill="#5a5a5a" stroke="none"/><rect x="252" y="899" width="1808.00" height="4.00" fill="#cccccc" stroke="none"/><rect x="252" y="1420.8" width="1808.00" height="4.00" fill="#404040" stroke="none"/><rect x="252" y="1424.8" width="1808.00" height="4.00" fill="#a0a0a0" stroke="none"/><rect x="252" y="895" width="4.00" height="533.80" fill="#5f5f5f" stroke="none"/><rect x="256" y="895" width="4.00" height="533.80" fill="#989898" stroke="none"/><rect x="2052" y="895" width="4.00" height="533.80" fill="#333333" stroke="none"/><rect x="2056" y="895" width="4.00" height="533.80" fill="#d0d0d0" stroke="none"/><rect x="252" y="899" width="4.00" height="19.00" fill="#3a3a3a" stroke="none"/><rect x="256" y="899" width="4.00" height="19.00" fill="#707070" stroke="none"/><rect x="2052" y="899" width="4.00" height="19.00" fill="#222222" stroke="none"/><rect x="2056" y="899" width="4.00" height="19.00" fill="#bbbbbb" stroke="none"/><rect x="252" y="1406" width="4.00" height="18.80" fill="#3a3a3a" stroke="none"/><rect x="256" y="1406" width="4.00" height="18.80" fill="#707070" stroke="none"/><rect x="2052" y="1406" width="4.00" height="18.80" fill="#222222" stroke="none"/><rect x="2056" y="1406" width="4.00" height="18.80" fill="#bbbbbb" stroke="none"/><rect x="252.5" y="995.8" width="1807.00" height="3.40" fill="#bfdbee" stroke="none"/><rect x="252.5" y="999.2" width="1807.00" height="3.80" fill="#0072bd" stroke="none"/><rect x="252.5" y="1003" width="1807.00" height="3.90" fill="#3f95cd" stroke="none"/><rect x="252.5" y="1313.5" width="1807.00" height="3.50" fill="#f5d4c5" stroke="none"/><rect x="252.5" y="1317" width="1807.00" height="4.00" fill="#d95319" stroke="none"/><rect x="252.5" y="1321" width="1807.00" height="3.70" fill="#e27e52" stroke="none"/><path d="M255.9,1161.1 L256.6,1158.0 L257.4,1155.2 L258.1,1152.4 L258.8,1149.5 L259.5,1146.7 L260.2,1143.8 L260.9,1141.0 L261.7,1138.1 L262.4,1135.3 L263.1,1132.4 L263.9,1129.5 L264.7,1126.7 L265.5,1123.8 L266.3,1120.9 L267.2,1118.1 L268.2,1115.2 L269.2,1112.3 L270.2,1109.5 L271.3,1106.6 L272.5,1103.8 L273.8,1100.9 L275.1,1098.1 L276.5,1095.3 L278.0,1092.6 L279.6,1089.9 L281.3,1087.3 L283.0,1084.8 L284.9,1082.4 L286.8,1080.1 L288.9,1077.9 L291.1,1075.8 L293.4,1073.9 L295.8,1072.2 L298.3,1070.6 L300.9,1069.2 L303.5,1068.0 L306.3,1066.9 L309.1,1066.1 L311.9,1065.4 L314.8,1064.9 L317.7,1064.7 L320.6,1064.6 L323.4,1064.7 L326.2,1065.1 L329.0,1065.6 L331.7,1066.4 L334.4,1067.4 L336.9,1068.6 L339.5,1070.0 L341.9,1071.5 L344.3,1073.2 L346.6,1075.1 L348.9,1077.0 L351.1,1079.1 L353.3,1081.2 L355.4,1083.4 L357.5,1085.7 L359.5,1088.0 L361.5,1090.3 L363.5,1092.7 L365.4,1095.1 L367.3,1097.4 L369.2,1099.8 L371.0,1102.3 L372.8,1104.7 L374.6,1107.2 L376.3,1109.6 L378.0,1112.1 L379.7,1114.6 L381.3,1117.1 L382.9,1119.7 L384.5,1122.2 L386.0,1124.8 L387.6,1127.3 L389.1,1129.9 L390.6,1132.5 L392.0,1135.1 L393.5,1137.7 L394.9,1140.4 L396.3,1143.0 L397.6,1145.7 L399.0,1148.3 L400.3,1151.0 L401.7,1153.7 L403.0,1156.4 L404.3,1159.1 L405.5,1161.8 L406.8,1164.5 L408.1,1167.2 L409.3,1169.9 L410.5,1172.6 L411.8,1175.3 L413.0,1178.1 L414.2,1180.8 L415.4,1183.6 L416.6,1186.3 L417.8,1189.1 L418.9,1191.8 L420.1,1194.6 L421.3,1197.3 L422.5,1200.1 L423.6,1202.8 L424.8,1205.6 L426.0,1208.3 L427.2,1211.1 L428.3,1213.8 L429.5,1216.6 L430.7,1219.3 L431.9,1222.1 L433.1,1224.8 L434.3,1227.6 L435.5,1230.3 L436.7,1233.0 L438.0,1235.8 L439.2,1238.5 L440.5,1241.2 L441.7,1243.9 L443.0,1246.6 L444.3,1249.3 L445.6,1252.0 L446.9,1254.7 L448.2,1257.3 L449.6,1260.0 L451.0,1262.7 L452.4,1265.3 L453.8,1267.9 L455.2,1270.6 L456.7,1273.2 L458.1,1275.8 L459.6,1278.4 L461.2,1280.9 L462.7,1283.5 L464.3,1286.0 L465.9,1288.6 L467.5,1291.1 L469.2,1293.6 L470.9,1296.1 L472.6,1298.6 L474.3,1301.0 L476.1,1303.5 L477.9,1305.9 L479.8,1308.3 L481.7,1310.7 L483.2,1313.1 L485.0,1315.5 L486.7,1318.0 L488.4,1320.4 L490.2,1322.7 L492.1,1325.1 L493.9,1327.4 L495.9,1329.7 L497.8,1331.9 L499.9,1334.1 L501.9,1336.3 L504.0,1338.5 L506.2,1340.6 L508.4,1342.6 L510.6,1344.7 L512.9,1346.6 L515.2,1348.6 L517.6,1350.5 L520.0,1352.3 L522.4,1354.1 L524.9,1355.8 L527.4,1357.5 L529.9,1359.1 L532.5,1360.6 L535.1,1362.1 L537.8,1363.5 L540.5,1364.9 L543.2,1366.2 L545.9,1367.4 L548.7,1368.5 L551.5,1369.5 L554.4,1370.4 L557.2,1371.2 L560.1,1372.0 L563.0,1372.6 L565.9,1373.1 L568.9,1373.5 L571.8,1373.8 L574.8,1374.0 L577.8,1374.1 L580.8,1374.1 L583.8,1374.0 L586.8,1373.9 L589.7,1373.6 L592.7,1373.3 L595.7,1372.9 L598.7,1372.4 L601.6,1371.9 L604.6,1371.3 L607.5,1370.6 L610.4,1369.9 L613.3,1369.1 L616.2,1368.2 L619.0,1367.4 L621.9,1366.4 L624.7,1365.4 L627.6,1364.4 L630.4,1363.4 L633.2,1362.3 L636.0,1361.2 L638.8,1360.0 L641.6,1358.9 L644.4,1357.7 L647.1,1356.5 L649.9,1355.3 L652.7,1354.1 L655.4,1352.8 L658.2,1351.6 L660.9,1350.4 L663.7,1349.2 L666.4,1348.0 L669.1,1346.8 L671.9,1345.6 L674.6,1344.4 L677.3,1343.1 L680.1,1341.9 L682.8,1340.7 L685.5,1339.5 L688.2,1338.2 L690.9,1336.9 L693.6,1335.7 L696.3,1334.4 L699.0,1333.1 L701.6,1331.7 L704.3,1330.4 L707.0,1329.1 L709.6,1327.7 L712.3,1326.4 L715.0,1325.0 L717.7,1323.7 L720.3,1322.3 L723.0,1321.0 L725.7,1319.6 L728.4,1318.3 L731.0,1316.9 L733.7,1315.6 L736.4,1314.3 L739.1,1312.9 L741.8,1311.6 L744.6,1310.3 L747.3,1309.1 L750.0,1307.8 L752.8,1306.6 L755.5,1305.4 L758.3,1304.2 L761.0,1303.0 L763.8,1301.9 L766.6,1300.7 L769.4,1299.7 L772.2,1298.6 L775.0,1297.6 L777.8,1296.6 L780.7,1295.6 L783.5,1294.7 L786.4,1293.8 L789.2,1292.9 L792.1,1292.1 L795.0,1291.2 L797.9,1290.4 L800.7,1289.7 L803.6,1288.9 L806.5,1288.2 L809.5,1287.5 L812.4,1286.8 L815.3,1286.2 L818.2,1285.5 L821.2,1284.9 L824.1,1284.3 L827.0,1283.7 L830.0,1283.2 L832.9,1282.6 L835.9,1282.1 L838.8,1281.6 L841.8,1281.1 L844.8,1280.6 L847.7,1280.2 L850.7,1279.7 L853.7,1279.3 L856.7,1278.8 L859.6,1278.4 L862.6,1278.0 L865.6,1277.6 L868.6,1277.2 L871.6,1276.9 L874.6,1276.5 L877.5,1276.1 L880.5,1275.8 L883.5,1275.4 L886.5,1275.1 L889.5,1274.8 L892.5,1274.5 L895.5,1274.2 L898.4,1273.9 L901.4,1273.6 L904.4,1273.3 L907.4,1273.0 L910.4,1272.7 L913.4,1272.5 L916.4,1272.2 L919.4,1272.0 L922.3,1271.8 L925.3,1271.6 L928.3,1271.4 L931.3,1271.2 L934.3,1271.0 L937.3,1270.8 L940.3,1270.7 L943.3,1270.5 L946.3,1270.4 L949.3,1270.2 L952.3,1270.1 L955.3,1270.0 L958.3,1269.9 L961.2,1269.8 L964.2,1269.8 L967.2,1269.7 L970.2,1269.7 L973.2,1269.6 L976.2,1269.6 L979.2,1269.6 L982.2,1269.6 L985.2,1269.6 L988.2,1269.7 L991.2,1269.7 L994.2,1269.8 L997.2,1269.8 L1000.2,1269.9 L1003.2,1270.0 L1006.2,1270.1 L1009.2,1270.2 L1012.2,1270.3 L1015.2,1270.5 L1018.2,1270.6 L1021.2,1270.7 L1024.2,1270.9 L1027.1,1271.0 L1030.1,1271.2 L1033.1,1271.4 L1036.1,1271.5 L1039.1,1271.7 L1042.1,1271.9 L1045.1,1272.0 L1048.1,1272.2 L1051.1,1272.3 L1054.1,1272.5 L1057.1,1272.7 L1060.1,1272.8 L1063.1,1273.0 L1066.1,1273.1 L1069.1,1273.2 L1072.1,1273.4 L1075.1,1273.5 L1078.1,1273.6 L1081.1,1273.7 L1084.1,1273.8 L1087.1,1273.9 L1090.1,1274.0 L1093.1,1274.0 L1096.1,1274.1 L1099.1,1274.1 L1102.1,1274.1 L1105.1,1274.2 L1108.1,1274.2 L1111.1,1274.2 L1114.1,1274.2 L1117.1,1274.1 L1120.1,1274.1 L1123.1,1274.1 L1126.1,1274.1 L1129.1,1274.0 L1132.1,1274.0 L1135.1,1273.9 L1138.1,1273.9 L1141.1,1273.8 L1144.1,1273.8 L1147.1,1273.7 L1150.1,1273.7 L1153.1,1273.6 L1156.1,1273.5 L1159.1,1273.5 L1162.1,1273.4 L1165.1,1273.4 L1168.1,1273.3 L1171.1,1273.2 L1174.1,1273.2 L1177.1,1273.1 L1180.1,1273.1 L1183.1,1273.0 L1186.1,1273.0 L1189.1,1272.9 L1192.1,1272.9 L1195.1,1272.8 L1198.1,1272.8 L1201.1,1272.7 L1204.1,1272.7 L1207.1,1272.6 L1210.1,1272.6 L1213.1,1272.6 L1216.1,1272.5 L1219.1,1272.5 L1222.1,1272.4 L1225.1,1272.4 L1228.1,1272.3 L1231.1,1272.3 L1234.1,1272.3 L1237.1,1272.2 L1240.1,1272.2 L1243.1,1272.2 L1246.1,1272.1 L1249.1,1272.1 L1252.1,1272.1 L1255.1,1272.0 L1258.1,1272.0 L1261.1,1272.0 L1264.1,1271.9 L1267.1,1271.9 L1270.1,1271.9 L1273.1,1271.9 L1276.1,1271.8 L1279.1,1271.8 L1282.1,1271.8 L1285.1,1271.7 L1288.1,1271.7 L1291.1,1271.7 L1294.1,1271.7 L1297.1,1271.7 L1300.1,1271.6 L1303.1,1271.6 L1306.1,1271.6 L1309.1,1271.6 L1312.1,1271.5 L1315.1,1271.5 L1318.1,1271.5 L1321.1,1271.5 L1324.1,1271.5 L1327.1,1271.5 L1330.1,1271.4 L1333.1,1271.4 L1336.1,1271.4 L1339.1,1271.4 L1342.1,1271.4 L1345.1,1271.4 L1348.1,1271.3 L1351.1,1271.3 L1354.1,1271.3 L1357.1,1271.3 L1360.1,1271.3 L1363.1,1271.3 L1366.1,1271.3 L1369.1,1271.2 L1372.1,1271.2 L1375.1,1271.2 L1378.1,1271.2 L1381.1,1271.2 L1384.1,1271.2 L1387.1,1271.2 L1390.1,1271.2 L1393.1,1271.2 L1396.1,1271.1 L1399.1,1271.1 L1402.1,1271.1 L1405.1,1271.1 L1408.1,1271.1 L1411.1,1271.1 L1414.1,1271.1 L1417.1,1271.1 L1420.1,1271.1 L1423.1,1271.1 L1426.1,1271.0 L1429.1,1271.0 L1432.1,1271.0 L1435.1,1271.0 L1438.1,1271.0 L1441.1,1271.0 L1444.1,1271.0 L1447.1,1271.0 L1450.1,1271.0 L1453.1,1271.0 L1456.1,1271.0 L1459.1,1271.0 L1462.1,1270.9 L1465.1,1270.9 L1468.1,1270.9 L1471.0,1270.9 L1474.0,1270.9 L1477.0,1270.9 L1480.0,1270.9 L1483.0,1270.9 L1486.0,1270.9 L1489.0,1270.9 L1492.0,1270.9 L1495.0,1270.8 L1498.0,1270.8 L1501.0,1270.8 L1504.0,1270.8 L1507.0,1270.8 L1510.0,1270.8 L1513.0,1270.8 L1516.0,1270.8 L1519.0,1270.8 L1522.0,1270.8 L1525.0,1270.8 L1528.0,1270.7 L1531.0,1270.7 L1534.0,1270.7 L1537.0,1270.7 L1540.0,1270.7 L1543.0,1270.7 L1546.0,1270.7 L1549.0,1270.7 L1552.0,1270.7 L1555.0,1270.7 L1558.0,1270.7 L1561.0,1270.6 L1564.0,1270.6 L1567.0,1270.6 L1570.0,1270.6 L1573.0,1270.6 L1576.0,1270.6 L1579.0,1270.6 L1582.0,1270.6 L1585.0,1270.6 L1588.0,1270.6 L1591.0,1270.6 L1594.0,1270.5 L1597.0,1270.5 L1600.0,1270.5 L1603.0,1270.5 L1606.0,1270.5 L1609.0,1270.5 L1612.0,1270.5 L1615.0,1270.5 L1618.0,1270.5 L1621.0,1270.5 L1624.0,1270.5 L1627.0,1270.4 L1630.0,1270.4 L1633.0,1270.4 L1636.0,1270.4 L1639.0,1270.4 L1642.0,1270.4 L1645.0,1270.4 L1648.0,1270.4 L1651.0,1270.4 L1654.0,1270.4 L1657.0,1270.3 L1660.0,1270.3 L1663.0,1270.3 L1666.0,1270.3 L1669.0,1270.3 L1672.0,1270.3 L1675.0,1270.3 L1678.0,1270.3 L1681.0,1270.3 L1684.0,1270.3 L1687.0,1270.3 L1690.0,1270.2 L1693.0,1270.2 L1696.0,1270.2 L1699.0,1270.2 L1702.0,1270.2 L1705.0,1270.2 L1708.0,1270.2 L1711.0,1270.2 L1714.0,1270.2 L1717.0,1270.2 L1720.0,1270.2 L1723.0,1270.1 L1726.0,1270.1 L1729.0,1270.1 L1732.0,1270.1 L1735.0,1270.1 L1738.0,1270.1 L1741.0,1270.1 L1744.0,1270.1 L1747.0,1270.1 L1750.0,1270.1 L1753.0,1270.1 L1756.0,1270.0 L1759.0,1270.0 L1762.0,1270.0 L1765.0,1270.0 L1768.0,1270.0 L1771.0,1270.0 L1774.0,1270.0 L1777.0,1270.0 L1780.0,1270.0 L1783.0,1270.0 L1786.0,1270.0 L1789.0,1270.0 L1792.0,1269.9 L1795.0,1269.9 L1798.0,1269.9 L1801.0,1269.9 L1804.0,1269.9 L1807.0,1269.9 L1810.0,1269.9 L1813.0,1269.9 L1816.0,1269.9 L1819.0,1269.9 L1822.0,1269.9 L1825.0,1269.8 L1828.0,1269.8 L1831.0,1269.8 L1834.0,1269.8 L1837.0,1269.8 L1840.0,1269.8 L1843.0,1269.8 L1846.0,1269.8 L1849.0,1269.8 L1852.0,1269.8 L1855.0,1269.8 L1858.0,1269.8 L1861.0,1269.7 L1864.0,1269.7 L1867.0,1269.7 L1870.0,1269.7 L1873.0,1269.7 L1876.0,1269.7 L1879.0,1269.7 L1882.0,1269.7 L1885.0,1269.7 L1888.0,1269.7 L1891.0,1269.7 L1894.0,1269.7 L1897.0,1269.7 L1900.0,1269.6 L1903.0,1269.6 L1906.0,1269.6 L1909.0,1269.6 L1912.0,1269.6 L1915.0,1269.6 L1918.0,1269.6 L1921.0,1269.6 L1924.0,1269.6 L1927.0,1269.6 L1930.0,1269.6 L1933.0,1269.6 L1936.0,1269.6 L1939.0,1269.5 L1942.0,1269.5 L1945.0,1269.5 L1948.0,1269.5 L1951.0,1269.5 L1954.0,1269.5 L1957.0,1269.5 L1960.0,1269.5 L1963.0,1269.5 L1966.0,1269.5 L1969.0,1269.5 L1972.0,1269.5 L1975.0,1269.5 L1978.0,1269.5 L1981.0,1269.4 L1984.0,1269.4 L1987.0,1269.4 L1990.0,1269.4 L1993.0,1269.4 L1996.0,1269.4 L1999.0,1269.4 L2002.0,1269.4 L2005.0,1269.4 L2008.0,1269.4 L2011.0,1269.4 L2014.0,1269.4 L2017.0,1269.4 L2020.0,1269.4 L2023.0,1269.4 L2026.0,1269.4 L2029.0,1269.3 L2032.0,1269.3 L2035.0,1269.3 L2038.0,1269.3 L2041.0,1269.3 L2044.0,1269.3 L2047.0,1269.3 L2050.0,1269.3 L2053.0,1269.3 L2056.0,1269.3" fill="none" stroke="#ff0000" stroke-width="7" stroke-linejoin="round"/><path d="M255.9,1161.1 L256.6,1158.0 L257.4,1155.2 L258.1,1152.4 L258.8,1149.5 L259.5,1146.7 L260.2,1143.8 L260.9,1141.0 L261.7,1138.1 L262.4,1135.3 L263.1,1132.4 L263.9,1129.5 L264.7,1126.7 L265.5,1123.8 L266.3,1120.9 L267.2,1118.1 L268.2,1115.2 L269.2,1112.3 L270.2,1109.5 L271.3,1106.6 L272.5,1103.8 L273.8,1100.9 L275.1,1098.1 L276.5,1095.3 L278.0,1092.6 L279.6,1089.9 L281.3,1087.3 L283.0,1084.8 L284.9,1082.4 L286.8,1080.1 L288.9,1077.9 L291.1,1075.8 L293.4,1073.9 L295.8,1072.2 L298.3,1070.6 L300.9,1069.2 L303.5,1068.0 L306.3,1066.9 L309.1,1066.1 L311.9,1065.4 L314.8,1064.9 L317.7,1064.7 L320.6,1064.6 L323.4,1064.7 L326.2,1065.1 L329.0,1065.6 L331.7,1066.4 L334.4,1067.4 L336.9,1068.6 L339.5,1070.0 L341.9,1071.5 L344.3,1073.2 L346.6,1075.1 L348.9,1077.0 L351.1,1079.1 L353.3,1081.2 L355.4,1083.4 L357.5,1085.7 L359.5,1088.0 L361.5,1090.3 L363.5,1092.7 L365.4,1095.1 L367.3,1097.4 L369.2,1099.8 L371.0,1102.3 L372.8,1104.7 L374.6,1107.2 L376.3,1109.6 L378.0,1112.1 L379.7,1114.6 L381.3,1117.1 L382.9,1119.7 L384.5,1122.2 L386.0,1124.8 L387.6,1127.3 L389.1,1129.9 L390.6,1132.5 L392.0,1135.1 L393.5,1137.7 L394.9,1140.4 L396.3,1143.0 L397.6,1145.7 L399.0,1148.3 L400.3,1151.0 L401.7,1153.7 L403.0,1156.4 L404.3,1159.1 L405.5,1161.8 L406.8,1164.5 L408.1,1167.2 L409.3,1169.9 L410.5,1172.6 L411.8,1175.3 L413.0,1178.1 L414.2,1180.8 L415.4,1183.6 L416.6,1186.3 L417.8,1189.1 L418.9,1191.8 L420.1,1194.6 L421.3,1197.3 L422.5,1200.1 L423.6,1202.8 L424.8,1205.6 L426.0,1208.3 L427.2,1211.1 L428.3,1213.8 L429.5,1216.6 L430.7,1219.3 L431.9,1222.1 L433.1,1224.8 L434.3,1227.6 L435.5,1230.3 L436.7,1233.0 L438.0,1235.8 L439.2,1238.5 L440.5,1241.2 L441.7,1243.9 L443.0,1246.6 L444.3,1249.3 L445.6,1252.0 L446.9,1254.7 L448.2,1257.3 L449.6,1260.0 L451.0,1262.7 L452.4,1265.3 L453.8,1267.9 L455.2,1270.6 L456.7,1273.2 L458.1,1275.8 L459.6,1278.4 L461.2,1280.9 L462.7,1283.5 L464.3,1286.0 L465.9,1288.6 L467.5,1291.1 L469.2,1293.6 L470.9,1296.1 L472.6,1298.6 L474.3,1301.0 L476.1,1303.5 L477.9,1305.9 L479.8,1308.3 L481.7,1310.7 L483.2,1313.1 L488.5,1318.6 L492.0,1320.0 L604.0,1320.0 L606.9,1319.2 L609.7,1318.1 L612.5,1317.0 L615.4,1316.0 L618.2,1315.1 L621.1,1314.2 L624.0,1313.4 L626.9,1312.7 L629.8,1312.0 L632.7,1311.4 L635.6,1310.9 L638.6,1310.4 L641.5,1309.9 L644.5,1309.5 L647.4,1309.2 L650.4,1308.9 L653.4,1308.6 L656.4,1308.3 L659.4,1308.1 L662.4,1307.8 L665.3,1307.6 L668.3,1307.3 L671.3,1307.1 L674.3,1306.8 L677.3,1306.6 L680.3,1306.3 L683.3,1306.1 L686.3,1305.8 L689.2,1305.6 L692.2,1305.4 L695.2,1305.1 L698.2,1304.9 L701.2,1304.7 L704.2,1304.4 L707.2,1304.2 L710.2,1304.0 L713.2,1303.8 L716.1,1303.6 L719.1,1303.3 L722.1,1303.1 L725.1,1302.9 L728.1,1302.7 L731.1,1302.5 L734.1,1302.3 L737.1,1302.1 L740.1,1301.9 L743.0,1301.8 L746.0,1301.6 L749.0,1301.4 L752.0,1301.2 L755.0,1301.1 L758.0,1300.9 L761.0,1300.7 L764.0,1300.6 L767.0,1300.4 L770.0,1300.2 L773.0,1300.1 L776.0,1299.9 L778.9,1299.8 L781.9,1299.7 L784.9,1299.5 L787.9,1299.4 L790.9,1299.2 L793.9,1299.1 L796.9,1299.0 L799.9,1298.9 L802.9,1298.7 L805.9,1298.6 L808.9,1298.5 L811.9,1298.4 L814.9,1298.3 L817.9,1298.1 L820.8,1298.0 L823.8,1297.9 L826.8,1297.8 L829.8,1297.7 L832.8,1297.6 L835.8,1297.5 L838.8,1297.4 L841.8,1297.3 L844.8,1297.2 L847.8,1297.1 L850.8,1297.0 L853.8,1296.9 L856.8,1296.9 L859.8,1296.8 L862.8,1296.7 L865.8,1296.6 L868.8,1296.5 L871.8,1296.4 L874.7,1296.4 L877.7,1296.3 L880.7,1296.2 L883.7,1296.1 L886.7,1296.0 L889.7,1296.0 L892.7,1295.9 L895.7,1295.8 L898.7,1295.8 L901.7,1295.7 L904.7,1295.6 L907.7,1295.5 L910.7,1295.5 L913.7,1295.4 L916.7,1295.3 L919.7,1295.3 L922.7,1295.2 L925.7,1295.1 L928.7,1295.1 L931.7,1295.0 L934.7,1294.9 L937.6,1294.9 L940.6,1294.8 L943.6,1294.7 L946.6,1294.7 L949.6,1294.6 L952.6,1294.5 L955.6,1294.5 L958.6,1294.4 L961.6,1294.3 L964.6,1294.3 L967.6,1294.2 L970.6,1294.1 L973.6,1294.1 L976.6,1294.0 L979.6,1294.0 L982.6,1293.9 L985.6,1293.8 L988.6,1293.8 L991.6,1293.7 L994.6,1293.6 L997.6,1293.6 L1000.6,1293.5 L1003.6,1293.4 L1006.5,1293.4 L1009.5,1293.3 L1012.5,1293.2 L1015.5,1293.2 L1018.5,1293.1 L1021.5,1293.0 L1024.5,1293.0 L1027.5,1292.9 L1030.5,1292.8 L1033.5,1292.8 L1036.5,1292.7 L1039.5,1292.7 L1042.5,1292.6 L1045.5,1292.5 L1048.5,1292.5 L1051.5,1292.4 L1054.5,1292.3 L1057.5,1292.3 L1060.5,1292.2 L1063.5,1292.1 L1066.5,1292.1 L1069.5,1292.0 L1072.4,1292.0 L1075.4,1291.9 L1078.4,1291.8 L1081.4,1291.8 L1084.4,1291.7 L1087.4,1291.6 L1090.4,1291.6 L1093.4,1291.5 L1096.4,1291.4 L1099.4,1291.4 L1102.4,1291.3 L1105.4,1291.3 L1108.4,1291.2 L1111.4,1291.1 L1114.4,1291.1 L1117.4,1291.0 L1120.4,1290.9 L1123.4,1290.9 L1126.4,1290.8 L1129.4,1290.8 L1132.4,1290.7 L1135.4,1290.6 L1138.3,1290.6 L1141.3,1290.5 L1144.3,1290.4 L1147.3,1290.4 L1150.3,1290.3 L1153.3,1290.3 L1156.3,1290.2 L1159.3,1290.1 L1162.3,1290.1 L1165.3,1290.0 L1168.3,1289.9 L1171.3,1289.9 L1174.3,1289.8 L1177.3,1289.8 L1180.3,1289.7 L1183.3,1289.6 L1186.3,1289.6 L1189.3,1289.5 L1192.3,1289.5 L1195.3,1289.4 L1198.3,1289.3 L1201.3,1289.3 L1204.3,1289.2 L1207.2,1289.2 L1210.2,1289.1 L1213.2,1289.0 L1216.2,1289.0 L1219.2,1288.9 L1222.2,1288.9 L1225.2,1288.8 L1228.2,1288.7 L1231.2,1288.7 L1234.2,1288.6 L1237.2,1288.6 L1240.2,1288.5 L1243.2,1288.4 L1246.2,1288.4 L1249.2,1288.3 L1252.2,1288.3 L1255.2,1288.2 L1258.2,1288.1 L1261.2,1288.1 L1264.2,1288.0 L1267.2,1288.0 L1270.2,1287.9 L1273.1,1287.8 L1276.1,1287.8 L1279.1,1287.7 L1282.1,1287.7 L1285.1,1287.6 L1288.1,1287.6 L1291.1,1287.5 L1294.1,1287.4 L1297.1,1287.4 L1300.1,1287.3 L1303.1,1287.3 L1306.1,1287.2 L1309.1,1287.2 L1312.1,1287.1 L1315.1,1287.0 L1318.1,1287.0 L1321.1,1286.9 L1324.1,1286.9 L1327.1,1286.8 L1330.1,1286.8 L1333.1,1286.7 L1336.1,1286.6 L1339.1,1286.6 L1342.0,1286.5 L1345.0,1286.5 L1348.0,1286.4 L1351.0,1286.4 L1354.0,1286.3 L1357.0,1286.3 L1360.0,1286.2 L1363.0,1286.1 L1366.0,1286.1 L1369.0,1286.0 L1372.0,1286.0 L1375.0,1285.9 L1378.0,1285.9 L1381.0,1285.8 L1384.0,1285.8 L1387.0,1285.7 L1390.0,1285.7 L1393.0,1285.6 L1396.0,1285.5 L1399.0,1285.5 L1402.0,1285.4 L1405.0,1285.4 L1407.9,1285.3 L1410.9,1285.3 L1413.9,1285.2 L1416.9,1285.2 L1419.9,1285.1 L1422.9,1285.1 L1425.9,1285.0 L1428.9,1285.0 L1431.9,1284.9 L1434.9,1284.9 L1437.9,1284.8 L1440.9,1284.8 L1443.9,1284.7 L1446.9,1284.6 L1449.9,1284.6 L1452.9,1284.5 L1455.9,1284.5 L1458.9,1284.4 L1461.9,1284.4 L1464.9,1284.3 L1467.9,1284.3 L1470.9,1284.2 L1473.9,1284.2 L1476.8,1284.1 L1479.8,1284.1 L1482.8,1284.0 L1485.8,1284.0 L1488.8,1283.9 L1491.8,1283.9 L1494.8,1283.8 L1497.8,1283.8 L1500.8,1283.7 L1503.8,1283.7 L1506.8,1283.6 L1509.8,1283.6 L1512.8,1283.5 L1515.8,1283.5 L1518.8,1283.4 L1521.8,1283.4 L1524.8,1283.3 L1527.8,1283.3 L1530.8,1283.3 L1533.8,1283.2 L1536.8,1283.2 L1539.8,1283.1 L1542.8,1283.1 L1545.7,1283.0 L1548.7,1283.0 L1551.7,1282.9 L1554.7,1282.9 L1557.7,1282.8 L1560.7,1282.8 L1563.7,1282.7 L1566.7,1282.7 L1569.7,1282.6 L1572.7,1282.6 L1575.7,1282.5 L1578.7,1282.5 L1581.7,1282.4 L1584.7,1282.4 L1587.7,1282.3 L1590.7,1282.3 L1593.7,1282.2 L1596.7,1282.2 L1599.7,1282.1 L1602.7,1282.1 L1605.7,1282.0 L1608.7,1282.0 L1611.7,1281.9 L1614.7,1281.9 L1617.6,1281.8 L1620.6,1281.8 L1623.6,1281.7 L1626.6,1281.7 L1629.6,1281.6 L1632.6,1281.6 L1635.6,1281.5 L1638.6,1281.5 L1641.6,1281.4 L1644.6,1281.4 L1647.6,1281.3 L1650.6,1281.3 L1653.6,1281.2 L1656.6,1281.2 L1659.6,1281.1 L1662.6,1281.0 L1665.6,1281.0 L1668.6,1280.9 L1671.6,1280.9 L1674.6,1280.8 L1677.6,1280.8 L1680.6,1280.7 L1683.5,1280.7 L1686.5,1280.6 L1689.5,1280.5 L1692.5,1280.5 L1695.5,1280.4 L1698.5,1280.4 L1701.5,1280.3 L1704.5,1280.3 L1707.5,1280.2 L1710.5,1280.1 L1713.5,1280.1 L1716.5,1280.0 L1719.5,1279.9 L1722.5,1279.9 L1725.5,1279.8 L1728.5,1279.8 L1731.5,1279.7 L1734.5,1279.6 L1737.5,1279.6 L1740.5,1279.5 L1743.5,1279.4 L1746.5,1279.4 L1749.4,1279.3 L1752.4,1279.2 L1755.4,1279.2 L1758.4,1279.1 L1761.4,1279.0 L1764.4,1279.0 L1767.4,1278.9 L1770.4,1278.8 L1773.4,1278.7 L1776.4,1278.7 L1779.4,1278.6 L1782.4,1278.5 L1785.4,1278.4 L1788.4,1278.4 L1791.4,1278.3 L1794.4,1278.2 L1797.4,1278.1 L1800.4,1278.1 L1803.4,1278.0 L1806.4,1277.9 L1809.4,1277.8 L1812.3,1277.8 L1815.3,1277.7 L1818.3,1277.6 L1821.3,1277.5 L1824.3,1277.5 L1827.3,1277.4 L1830.3,1277.3 L1833.3,1277.2 L1836.3,1277.1 L1839.3,1277.1 L1842.3,1277.0 L1845.3,1276.9 L1848.3,1276.8 L1851.3,1276.8 L1854.3,1276.7 L1857.3,1276.6 L1860.3,1276.5 L1863.3,1276.5 L1866.3,1276.4 L1869.3,1276.3 L1872.3,1276.2 L1875.2,1276.2 L1878.2,1276.1 L1881.2,1276.0 L1884.2,1275.9 L1887.2,1275.9 L1890.2,1275.8 L1893.2,1275.7 L1896.2,1275.7 L1899.2,1275.6 L1902.2,1275.5 L1905.2,1275.5 L1908.2,1275.4 L1911.2,1275.3 L1914.2,1275.3 L1917.2,1275.2 L1920.2,1275.1 L1923.2,1275.1 L1926.2,1275.0 L1929.2,1275.0 L1932.2,1274.9 L1935.2,1274.8 L1938.2,1274.8 L1941.1,1274.7 L1944.1,1274.7 L1947.1,1274.6 L1950.1,1274.6 L1953.1,1274.5 L1956.1,1274.5 L1959.1,1274.4 L1962.1,1274.4 L1965.1,1274.3 L1968.1,1274.3 L1971.1,1274.2 L1974.1,1274.2 L1977.1,1274.2 L1980.1,1274.1 L1983.1,1274.1 L1986.1,1274.1 L1989.1,1274.0 L1992.1,1274.0 L1995.1,1274.0 L1998.1,1273.9 L2001.1,1273.9 L2004.1,1273.9 L2007.1,1273.9 L2010.1,1273.8 L2013.1,1273.8 L2016.0,1273.8 L2019.0,1273.8 L2022.0,1273.8 L2025.0,1273.8 L2028.0,1273.8 L2031.0,1273.8 L2034.0,1273.8 L2037.0,1273.8 L2040.0,1273.8 L2043.0,1273.8 L2046.0,1273.8 L2049.0,1273.8 L2052.0,1273.8 L2055.0,1273.8 L2058.0,1273.8" fill="none" stroke="#0000ff" stroke-width="7" stroke-linejoin="round"/><line x1="529.2" y1="1236.5" x2="510.5" y2="1277" stroke="#333" stroke-width="3.6"/><polygon points="497,1272 522.5,1283.6 495.3,1314.5" fill="#000"/><line x1="641.8" y1="1236.5" x2="624.5" y2="1277" stroke="#333" stroke-width="3.6"/><polygon points="612.8,1272 638.2,1283.6 609.4,1314.5" fill="#000"/><rect x="403" y="1061.3" width="167.00" height="7.70" fill="#0072bd" stroke="none"/><rect x="639" y="1061.3" width="166.00" height="7.70" fill="#d95319" stroke="none"/><rect x="818" y="1061.3" width="37.50" height="7.70" fill="#bdbdbd" stroke="none"/><rect x="923" y="1061.3" width="169.00" height="7.70" fill="#ff0000" stroke="none"/><rect x="1580" y="1061.3" width="167.00" height="7.70" fill="#0000ff" stroke="none"/><g font-family="'Liberation Serif', 'Times New Roman', serif" fill="#1e1e1e" stroke="#fff" stroke-width="0.5" style="font-kerning:none"><text x="514.66" y="133.14" font-size="72.3">(a) Transient response of the output voltage</text><text x="495.09" y="851.89" font-size="72.2">(b) Control input with and without saturation</text><text x="172.72" y="290.98" font-size="73">60</text><text x="172.84" y="442.48" font-size="73">40</text><text x="172.12" y="589.73" font-size="73">20</text><text x="208.87" y="740.27" font-size="73">0</text><text x="255.47" y="779.48" font-size="73">0</text><text x="652.14" y="779.48" font-size="73">0.005</text><text x="1115.47" y="779.48" font-size="73">0.01</text><text x="1550.29" y="779.48" font-size="73">0.015</text><text x="2015.01" y="779.48" font-size="73">0.02</text><text x="158.66" y="1061.82" font-size="73">0.2</text><text x="209.12" y="1192.97" font-size="73">0</text><text x="131.26" y="1325.12" font-size="73">-0.2</text><text x="130.75" y="1456.42" font-size="73">-0.4</text><text x="256.12" y="1496.22" font-size="73">0</text><text x="501.99" y="1496.22" font-size="73">0.005</text><text x="813.72" y="1496.22" font-size="73">0.01</text><text x="1106.99" y="1496.22" font-size="73">0.015</text><text x="1419.06" y="1496.22" font-size="73">0.02</text><text x="1702.64" y="1496.22" font-size="73">0.025</text><text x="2013.94" y="1496.22" font-size="73">0.03</text><text x="1063.13" y="1568.70" font-size="73">Time (s)</text><text x="547.78" y="478.50" font-size="74">8 ms</text><text x="1070.03" y="512.09" font-size="74.5">13.5 ms</text><text x="436.70" y="1211.25" font-size="72.2">Begin / finish saturation</text><text transform="translate(129.7,451.75) rotate(-90)" x="-172.07" y="17.71" font-size="72.3">Voltage (V)</text><text transform="translate(122,1138.2) rotate(-90)" font-size="86" stroke-width="2"><tspan x="-102.72" y="20.28" font-style="italic">ν </tspan><tspan x="-49.45" y="21.07">(k)</tspan></text><g stroke="#fff" stroke-width="0.3" fill="#222222"><text transform="translate(801.70,658.40) scale(1.080,1)" x="-14.52" y="15.18" font-size="66" font-style="italic" stroke-width="2">v</text><rect x="790.6" y="632" width="26.40" height="3.40" fill="#6e6e6e" stroke="none"/><text x="819.81" y="691.18" font-size="46">2</text><text font-size="46" font-style="italic" stroke-width="1.3"><tspan x="823.09" y="642.54">r</tspan><tspan x="844.13" y="642.31">e</tspan><tspan x="872.53" y="639.23">f</tspan></text><text transform="translate(1116.25,654.25) scale(1.080,1)" x="-14.52" y="15.18" font-size="66" font-style="italic" stroke-width="2">v</text><text x="1134.51" y="684.18" font-size="46">2</text><text font-size="53"><tspan x="1135.71" y="645.42">Without </tspan><tspan x="1329.86" y="645.02">Saturation</tspan></text><text transform="translate(1770.30,654.25) scale(1.080,1)" x="-14.52" y="15.18" font-size="66" font-style="italic" stroke-width="2">v</text><text x="1786.21" y="684.18" font-size="46">2</text><text x="1786.26" y="645.02" font-size="53">Saturation</text><text transform="translate(594.75,1067.25) scale(1.100,1)" x="-11.88" y="15.51" font-size="66" font-style="italic" stroke-width="2">s</text><rect x="585.7" y="1041.8" width="25.20" height="3.40" fill="#6e6e6e" stroke="none"/><text transform="translate(882.00,1067.25) scale(1.100,1)" x="-11.88" y="15.51" font-size="66" font-style="italic" stroke-width="2">s</text><rect x="872" y="1041.8" width="25.40" height="3.40" fill="#6e6e6e" stroke="none"/><text transform="translate(1117.70,1068.25) scale(1.220,1)" x="-13.64" y="14.26" font-size="62" font-style="italic" stroke-width="2">ν</text><text font-size="53"><tspan x="1137.31" y="1058.22">Without </tspan><tspan x="1329.66" y="1057.88">Saturation</tspan></text><text transform="translate(1773.25,1066.00) scale(1.220,1)" x="-13.64" y="14.26" font-size="62" font-style="italic" stroke-width="2">ν</text><text x="1789.86" y="1057.07" font-size="53">Saturation</text></g></g></svg></body></html>
